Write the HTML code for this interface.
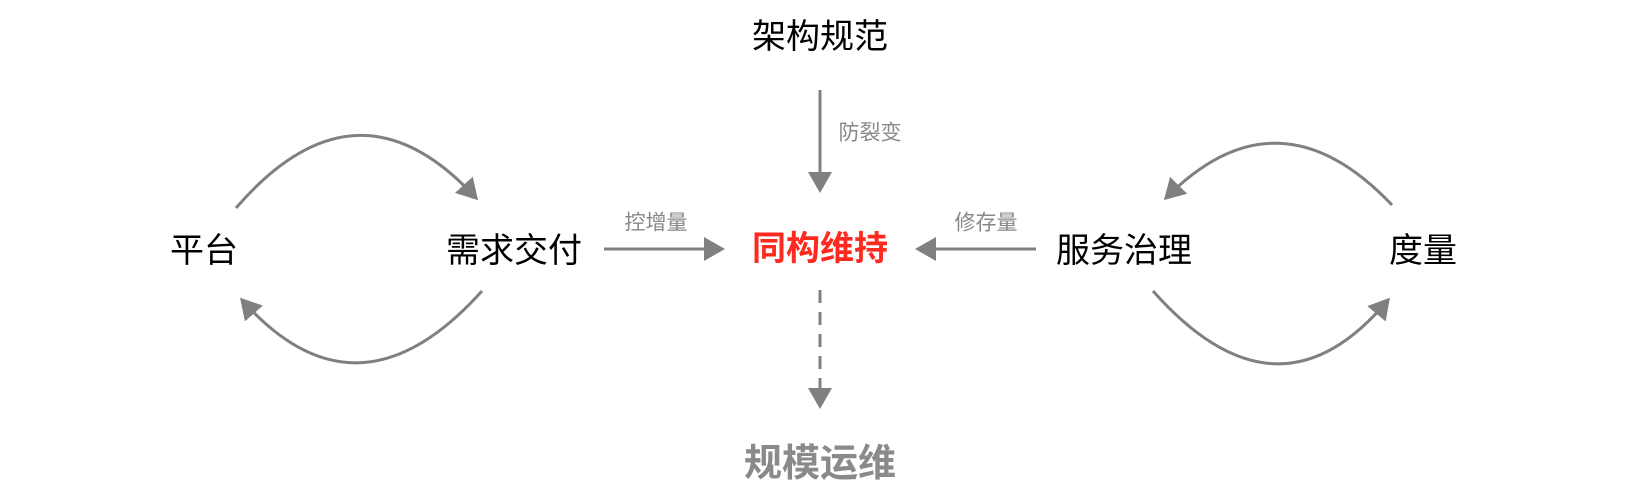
<!DOCTYPE html>
<html><head><meta charset="utf-8"><style>
html,body{margin:0;padding:0;background:#fff;}
body{width:1644px;height:498px;position:relative;overflow:hidden;font-family:"Liberation Sans","Noto Sans CJK SC",sans-serif;}
.t{position:absolute;transform:translate(-50%,-50%);white-space:nowrap;line-height:1;}
.n{font-size:34px;color:#000;}
.l{font-size:21px;color:#888;}
</style></head><body>
<svg width="1644" height="498" style="position:absolute;left:0;top:0">
<defs><marker id="a" markerWidth="8" markerHeight="8" refX="6" refY="4" orient="auto" markerUnits="strokeWidth">
<path d="M0,0 L7,4 L0,8 z" fill="#808080"/></marker></defs>
<g stroke="#808080" stroke-width="3" fill="none" marker-end="url(#a)">
<line x1="820" y1="90" x2="820" y2="190"/>
<line x1="820" y1="290" x2="820" y2="406" stroke-dasharray="13,9"/>
<line x1="604" y1="249" x2="722" y2="249"/>
<line x1="1036" y1="249" x2="918" y2="249"/>
<path d="M236,208 Q357,68 476,198"/>
<path d="M482,291 Q357,430 242,300"/>
<path d="M1392,205 Q1278,85 1166,198"/>
<path d="M1153,291 Q1278,432 1388,300"/>
</g>
</svg>
<div class="t n" style="left:820px;top:37px">架构规范</div>
<div class="t l" style="left:870px;top:133px">防裂变</div>
<div class="t l" style="left:656px;top:223px">控增量</div>
<div class="t l" style="left:986px;top:223px">修存量</div>
<div class="t n" style="left:204px;top:251px">平台</div>
<div class="t n" style="left:514px;top:251px">需求交付</div>
<div class="t n" style="left:820px;top:249px;color:#ff2a1f;font-weight:bold">同构维持</div>
<div class="t n" style="left:1124px;top:251px">服务治理</div>
<div class="t n" style="left:1423px;top:251px">度量</div>
<div class="t n" style="left:820px;top:464px;color:#8a8a8a;font-weight:bold;font-size:38px">规模运维</div>
</body></html>
